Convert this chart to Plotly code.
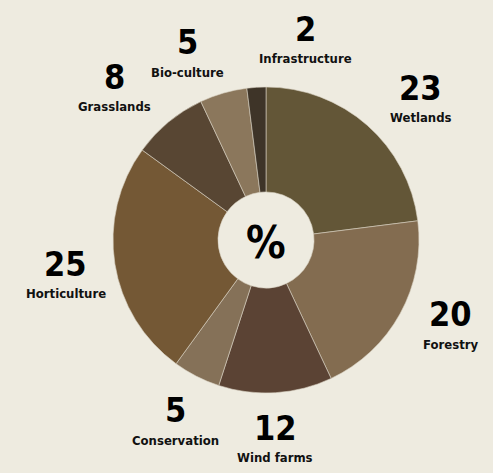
import math
import plotly.graph_objects as go

categories = ["Wetlands", "Forestry", "Wind farms", "Conservation",
              "Horticulture", "Grasslands", "Bio-culture", "Infrastructure"]
values = [23, 20, 12, 5, 25, 8, 5, 2]
colors = ["#635637", "#836c50", "#5b4334", "#857158",
          "#745835", "#584633", "#8b775c", "#3e3428"]
# per-label angular nudge (degrees) and radial distance (px) for label placement
label_nudge = [7, -3, 1, -1, -2, -6, -7, 15]
label_dist = [207, 205, 203, 206, 204, 212, 199, 200]

W, H = 493, 473
cx, cy, R = 266, 240, 153
BG = "#eeebe0"
FONT = "'DejaVu Sans Condensed', 'Roboto Condensed', 'Liberation Sans Narrow', Roboto, sans-serif"

fig = go.Figure(go.Pie(
    labels=categories, values=values, sort=False, direction="clockwise",
    rotation=0, hole=0.314, textinfo="none", hoverinfo="label+value",
    marker=dict(colors=colors, line=dict(color="#d9d2c2", width=0.6)),
    domain=dict(x=[(cx - R) / W, (cx + R) / W],
                y=[1 - (cy + R) / H, 1 - (cy - R) / H]),
    showlegend=False,
))

total = sum(values)
cum = 0
ann = []
for cat, v, nd, d in zip(categories, values, label_nudge, label_dist):
    mid = (cum + v / 2) / total * 360 + nd
    cum += v
    th = math.radians(mid)
    px = cx + d * math.sin(th)
    py = cy - d * math.cos(th)
    xp, yp = px / W, 1 - py / H
    ann.append(dict(x=xp, y=yp, xref="paper", yref="paper", text=f"<b>{v}</b>",
                    showarrow=False, xanchor="center", yanchor="middle", yshift=15,
                    font=dict(family=FONT, size=34, color="#000")))
    ann.append(dict(x=xp, y=yp, xref="paper", yref="paper", text=f"<b>{cat}</b>",
                    showarrow=False, xanchor="center", yanchor="middle", yshift=-15,
                    font=dict(family=FONT, size=13, color="#111")))

ann.append(dict(x=cx / W, y=1 - cy / H, xref="paper", yref="paper", text="<b>%</b>",
                showarrow=False, xanchor="center", yanchor="middle", yshift=-2,
                font=dict(family=FONT, size=44, color="#000")))

fig.update_layout(width=W, height=H, margin=dict(l=0, r=0, t=0, b=0),
                  paper_bgcolor=BG, plot_bgcolor=BG, annotations=ann)
fig.write_html("out.html")
